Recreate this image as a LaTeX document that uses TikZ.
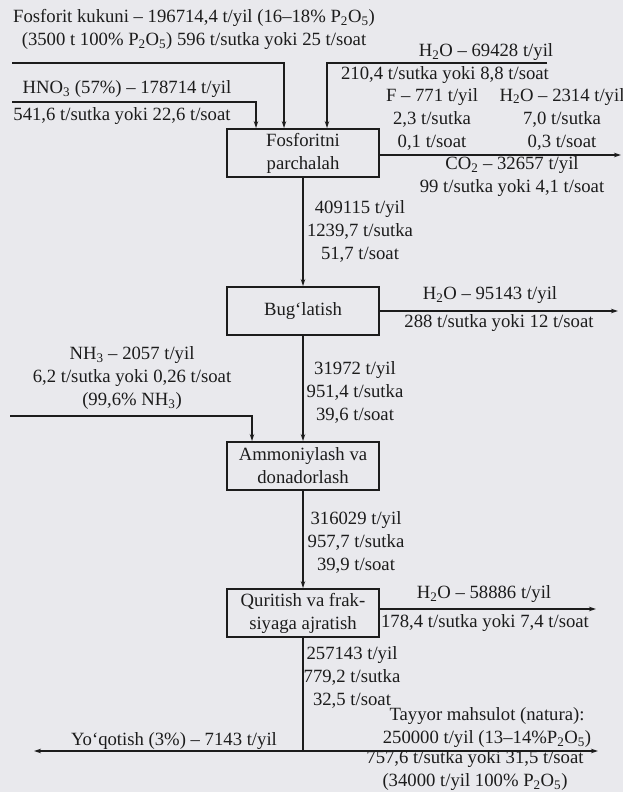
\documentclass[tikz,border=0pt]{standalone}
\usepackage{fontspec}
\setmainfont{Liberation Serif}
\usepackage{tikz}
\usetikzlibrary{arrows.meta}
\usepackage{xcolor}
\definecolor{scanbg}{HTML}{E9E9ED}
\definecolor{ink}{HTML}{1C1C1C}
\newcommand{\ptwo}{P\textsubscript{2}O\textsubscript{5}}
\newcommand{\water}{H\textsubscript{2}O}

\begin{document}
\begin{tikzpicture}[x=1pt, y=-1pt, >={Stealth[length=7pt,width=4.5pt]},
  font=\fontsize{18.7}{23}\selectfont, color=ink,
  stage/.style={draw, line width=1.9pt, minimum width=152pt, minimum height=48pt, inner sep=0pt, align=center},
  lbl/.style={inner sep=0pt, align=center},
  flow/.style={->, line width=1.3pt}]
  \fill[scanbg] (0,0) rectangle (623,792);
  \useasboundingbox (0,0) rectangle (623,792);
  \node[stage] (parch) at (303,153) {Fosforitni\\parchalah};
  \node[stage] (bug) at (303,311) {Bug‘latish};
  \node[stage] (ammo) at (303,466) {Ammoniylash va\\donadorlash};
  \node[stage] (quri) at (303,613) {Quritish va frak-\\siyaga ajratish};
  \coordinate (inFos) at (12,63);
  \coordinate (inHno) at (12,102);
  \coordinate (inWat) at (547,63);
  \coordinate (inNh) at (10,416);
  \coordinate (outGas) at (621,155);
  \coordinate (outVap) at (618,311);
  \coordinate (outDry) at (596,609);
  \coordinate (split) at (303,751);
  \coordinate (loss) at (34,751);
  \coordinate (prod) at (598,751);
  \draw[flow] (inFos) -| ([xshift=-19pt]parch.north);
  \draw[flow] (inHno) -| ([xshift=-47pt]parch.north);
  \draw[flow] (inWat) -| ([xshift=24pt]parch.north);
  \draw[flow] (inNh) -| ([xshift=-51pt]ammo.north);
  \draw[flow] (parch) -- (bug);
  \draw[flow] (bug) -- (ammo);
  \draw[flow] (ammo) -- (quri);
  \draw[flow] (parch.east |- outGas) -- (outGas);
  \draw[flow] (bug.east) -- (outVap);
  \draw[flow] (quri.east |- outDry) -- (outDry);
  \draw[line width=1.3pt] (quri.south) -- (split);
  \draw[flow] (split) -- (loss);
  \draw[flow] (split) -- (prod);
  \node[lbl] (fosIn) at (194,29.5) {Fosforit kukuni – 196714,4 t/yil (16–18\% \ptwo)\\(3500 t 100\% \ptwo) 596 t/sutka yoki 25 t/soat};
  \node[lbl] (hnoTop) at (127,89) {HNO\textsubscript{3} (57\%) – 178714 t/yil};
  \node[lbl] (hnoBot) at (122,116) {541,6 t/sutka yoki 22,6 t/soat};
  \node[lbl] (watTop) at (486,52) {\water{} – 69428 t/yil};
  \node[lbl] (watBot) at (445,75) {210,4 t/sutka yoki 8,8 t/soat};
  \node[lbl] (fluor) at (432,119) {F – 771 t/yil\\2,3 t/sutka\\0,1 t/soat};
  \node[lbl] (watGas) at (562,119) {\water{} – 2314 t/yil\\7,0 t/sutka\\0,3 t/soat};
  \node[lbl] (carb) at (512,177) {CO\textsubscript{2} – 32657 t/yil\\99 t/sutka yoki 4,1 t/soat};
  \node[lbl] (flowA) at (360,231) {409115 t/yil\\1239,7 t/sutka\\51,7 t/soat};
  \node[lbl] (vapTop) at (490,295) {\water{} – 95143 t/yil};
  \node[lbl] (vapBot) at (499,323) {288 t/sutka yoki 12 t/soat};
  \node[lbl] (nh) at (132,378) {NH\textsubscript{3} – 2057 t/yil\\6,2 t/sutka yoki 0,26 t/soat\\(99,6\% NH\textsubscript{3})};
  \node[lbl] (flowB) at (355,392) {31972 t/yil\\951,4 t/sutka\\39,6 t/soat};
  \node[lbl] (flowC) at (356,542) {316029 t/yil\\957,7 t/sutka\\39,9 t/soat};
  \node[lbl] (dryTop) at (484,594) {\water{} – 58886 t/yil};
  \node[lbl] (dryBot) at (485,623) {178,4 t/sutka yoki 7,4 t/soat};
  \node[lbl] (flowD) at (352,677) {257143 t/yil\\779,2 t/sutka\\32,5 t/soat};
  \node[lbl] (lossLbl) at (174,741) {Yo‘qotish (3\%) – 7143 t/yil};
  \node[lbl] (prodTop) at (487,728) {Tayyor mahsulot (natura):\\250000 t/yil (13–14\%\ptwo)};
  \node[lbl] (prodBot) at (475,771) {757,6 t/sutka yoki 31,5 t/soat\\(34000 t/yil 100\% \ptwo)};
\end{tikzpicture}
\end{document}
